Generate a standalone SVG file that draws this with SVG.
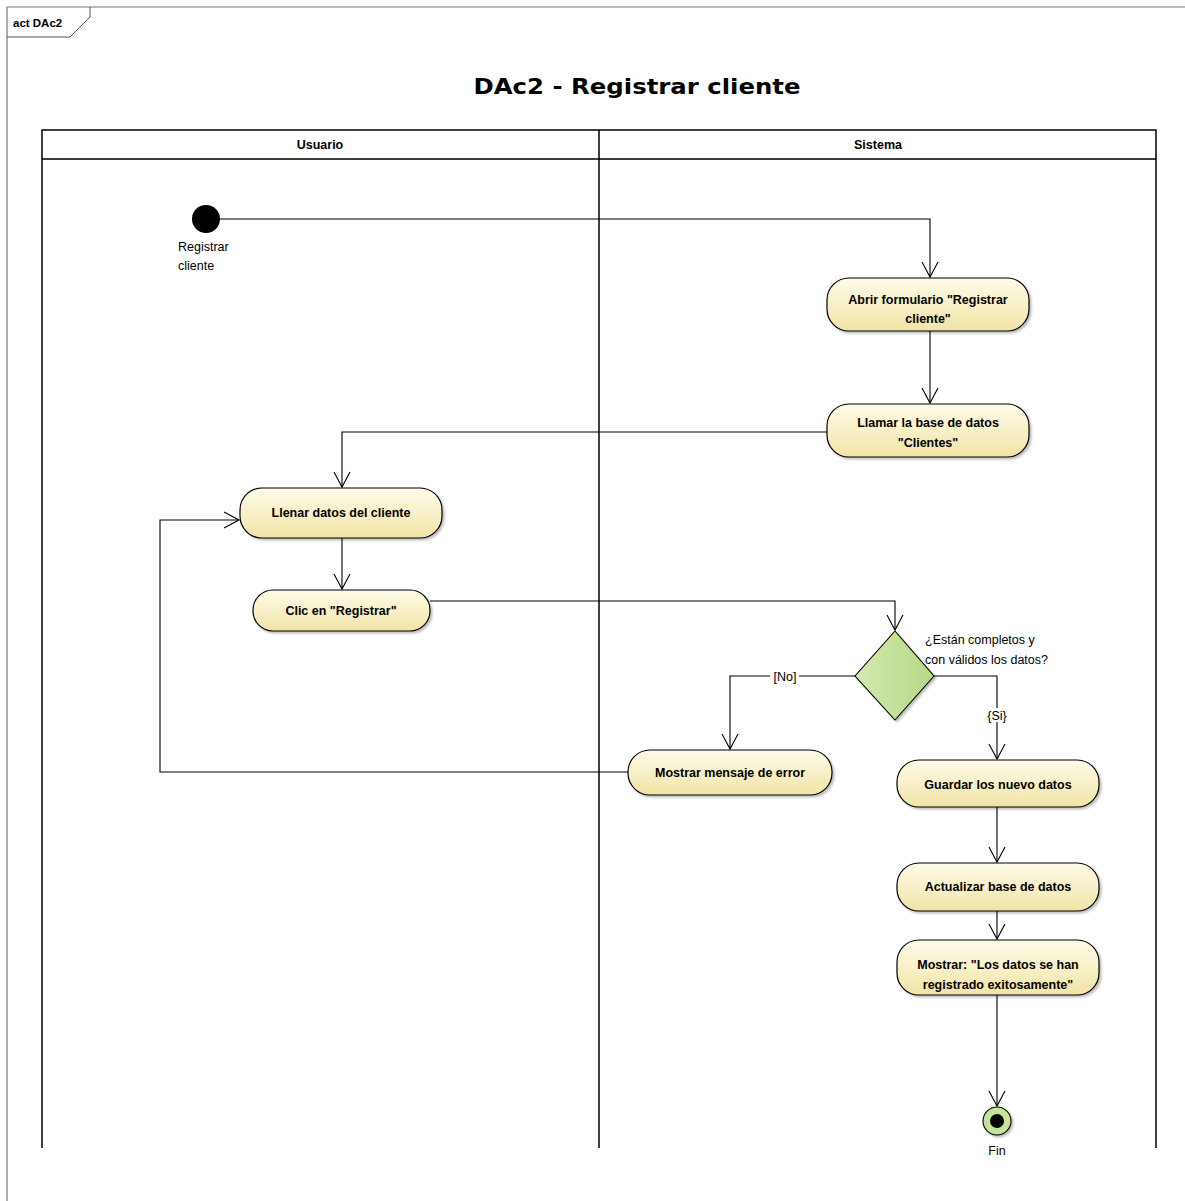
<svg xmlns="http://www.w3.org/2000/svg" width="1185" height="1201" viewBox="0 0 1185 1201">
<style>
.lane{fill:none;stroke:#000;stroke-width:1.5}
.act{fill:url(#gy);stroke:#000;stroke-width:1.2;filter:url(#sh)}
.t{font-family:"Liberation Sans",Arial,sans-serif;font-size:12.5px;font-weight:bold;fill:#000;text-anchor:middle}
.lb{font-family:"Liberation Sans",Arial,sans-serif;font-size:12.5px;fill:#000}
.e{fill:none;stroke:#000;stroke-width:1.1;marker-end:url(#ar)}
</style>
<defs>
<linearGradient id="gy" x1="0" y1="0" x2="0" y2="1">
<stop offset="0" stop-color="#fefcea"/><stop offset="1" stop-color="#f1e4a6"/>
</linearGradient>
<linearGradient id="gg" x1="0" y1="0" x2="1" y2="0">
<stop offset="0" stop-color="#d4eab0"/><stop offset="1" stop-color="#b4d887"/>
</linearGradient>
<filter id="sh" x="-10%" y="-10%" width="130%" height="140%">
<feDropShadow dx="2" dy="2" stdDeviation="1.2" flood-color="#000" flood-opacity="0.25"/>
</filter>
<marker id="ar" markerWidth="20" markerHeight="20" viewBox="0 0 20 20" refX="16" refY="10" markerUnits="userSpaceOnUse" orient="auto">
<path d="M1,2 L16,10 L1,18" fill="none" stroke="#000" stroke-width="1.1"/>
</marker>
</defs>
<rect width="1185" height="1201" fill="#fff"/>
<g id="frame">
<path d="M7,1201 V7 H1185" fill="none" stroke="#777" stroke-width="1.2"/>
<path d="M7,37 H70 L90,17 V7" fill="none" stroke="#555" stroke-width="1"/>
<text x="13" y="27" font-family="Liberation Sans,Arial,sans-serif" font-size="11.5px" font-weight="bold">act DAc2</text>
</g>
<text id="title" x="637" y="94" font-family="'Comic Sans MS','DejaVu Sans',sans-serif" font-size="22px" font-weight="bold" text-anchor="middle" textLength="327" lengthAdjust="spacingAndGlyphs">DAc2 - Registrar cliente</text>
<g id="lanes">
<path class="lane" d="M42,1148 V130 H1156 V1148 M42,159 H1156 M599,130 V1148"/>
<text class="t" x="320" y="149" font-size="11.5px">Usuario</text>
<text class="t" x="878" y="149" font-size="11.5px">Sistema</text>
</g>
<g id="connectors">
<path class="e" d="M220,219 H930 V277"/>
<path class="e" d="M930,331 V403"/>
<path class="e" d="M827,432 H342 V487"/>
<path class="e" d="M342,538 V589"/>
<path class="e" d="M430,601 H895 V630"/>
<path class="e" d="M855,676 H730 V749"/>
<path class="e" d="M934,676 H997 V759"/>
<path class="e" d="M628,772 H160 V520 H239"/>
<path class="e" d="M997,807 V862"/>
<path class="e" d="M997,911 V939"/>
<path class="e" d="M997,995 V1106"/>
<rect x="770" y="669" width="29" height="14" fill="#fff"/>
<text class="lb" x="785" y="681" text-anchor="middle">[No]</text>
<rect x="984" y="708" width="26" height="14" fill="#fff"/>
<text class="lb" x="997" y="720" text-anchor="middle">{Si}</text>
</g>
<g id="initial">
<circle cx="206" cy="219" r="14" fill="#000"/>
<text class="lb" x="178" y="251">Registrar</text>
<text class="lb" x="178" y="270">cliente</text>
</g>
<g id="abrir">
<rect class="act" x="827" y="278" width="202" height="53" rx="22"/>
<text class="t" x="928" y="304">Abrir formulario "Registrar</text>
<text class="t" x="928" y="323">cliente"</text>
</g>
<g id="llamar">
<rect class="act" x="827" y="404" width="202" height="53" rx="22"/>
<text class="t" x="928" y="427">Llamar la base de datos</text>
<text class="t" x="928" y="447">"Clientes"</text>
</g>
<g id="llenar">
<rect class="act" x="240" y="488" width="202" height="50" rx="22"/>
<text class="t" x="341" y="517">Llenar datos del cliente</text>
</g>
<g id="clic">
<rect class="act" x="253" y="590" width="177" height="41" rx="20"/>
<text class="t" x="341" y="615">Clic en "Registrar"</text>
</g>
<g id="decision">
<polygon points="895,631 934,676 895,720 855,676" fill="url(#gg)" stroke="#000" stroke-width="1.1" filter="url(#sh)"/>
<text class="lb" x="925" y="644">¿Están completos y</text>
<text class="lb" x="925" y="664">con válidos los datos?</text>
</g>
<g id="error">
<rect class="act" x="628" y="750" width="204" height="45" rx="22"/>
<text class="t" x="730" y="777">Mostrar mensaje de error</text>
</g>
<g id="guardar">
<rect class="act" x="897" y="760" width="202" height="47" rx="22"/>
<text class="t" x="998" y="789">Guardar los nuevo datos</text>
</g>
<g id="actualizar">
<rect class="act" x="897" y="863" width="202" height="48" rx="22"/>
<text class="t" x="998" y="891">Actualizar base de datos</text>
</g>
<g id="exito">
<rect class="act" x="897" y="940" width="202" height="55" rx="22"/>
<text class="t" x="998" y="969">Mostrar: "Los datos se han</text>
<text class="t" x="998" y="989">registrado exitosamente"</text>
</g>
<g id="final">
<circle cx="997" cy="1121" r="14" fill="#c6e39c" stroke="#000" stroke-width="1.1" filter="url(#sh)"/>
<circle cx="997" cy="1121" r="7" fill="#000"/>
<text class="lb" x="997" y="1155" text-anchor="middle">Fin</text>
</g>
</svg>
